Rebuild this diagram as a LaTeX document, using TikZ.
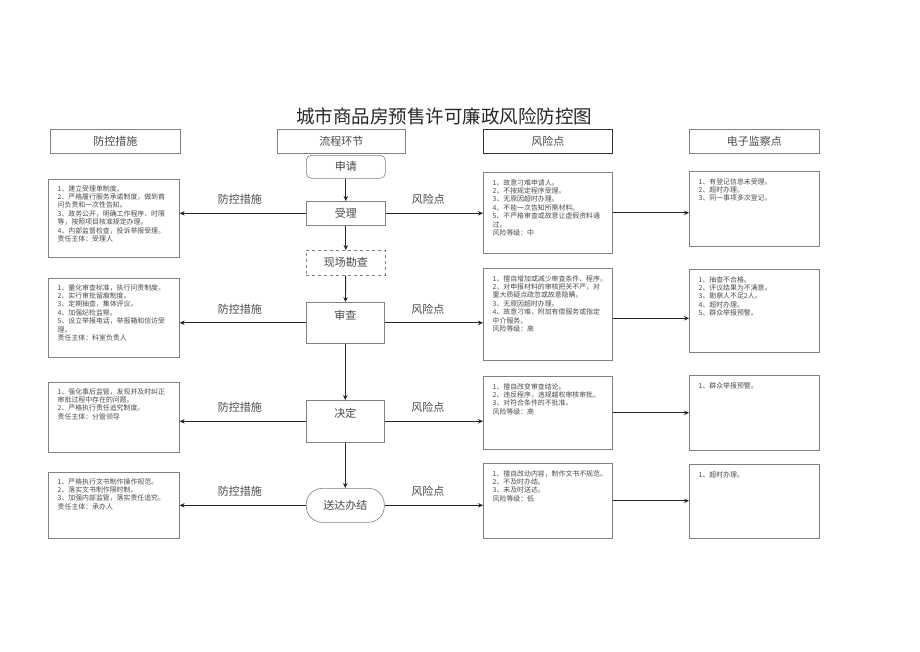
\documentclass[tikz,border=0pt]{standalone}
\usepackage{fontspec}
\setmainfont{Noto Sans CJK SC}
\usetikzlibrary{arrows.meta}
\definecolor{bordergray}{HTML}{808080}
\definecolor{txtgray}{HTML}{4A4A4A}
\tikzset{
  box/.style={draw=bordergray, line width=0.6pt, rectangle, inner sep=0pt, anchor=north west},
  headbox/.style={box, font=\fontsize{11}{13}\selectfont, text=txtgray},
  procbox/.style={box, font=\fontsize{11}{13}\selectfont, text=txtgray},
  bodytext/.style={anchor=north west, align=left, font=\fontsize{6.9}{8.45}\selectfont, text=txtgray, inner sep=0pt},
  arr/.style={draw=black!85, line width=0.9pt, -{Stealth[length=5pt,width=4.5pt]}},
  lbl/.style={font=\fontsize{11}{13}\selectfont, text=txtgray, inner sep=0pt},
}
\begin{document}
\begin{tikzpicture}[x=1pt,y=-1pt]
\useasboundingbox[fill=white] (0,0) rectangle (920,651);

% title
\node[font=\fontsize{18.5}{20}\selectfont, text=black!85] (title) at (444,116) {城市商品房预售许可廉政风险防控图};

% headers
\node[headbox, minimum width=130pt, minimum height=24pt] (h1) at (50,129) {防控措施};
\node[headbox, minimum width=128pt, minimum height=24pt] (h2) at (277,129) {流程环节};
\node[headbox, draw=black!80, line width=0.9pt, minimum width=129pt, minimum height=24pt] (h3) at (483,129) {风险点};
\node[headbox, minimum width=130pt, minimum height=24pt] (h4) at (689,129) {电子监察点};

% process nodes
\node[procbox, rounded corners=5pt, minimum width=79pt, minimum height=23pt] (shenqing) at (306,155) {申请};
\node[procbox, minimum width=79pt, minimum height=24pt] (shouli) at (306,201) {受理};
\node[procbox, dashed, minimum width=79pt, minimum height=25pt] (kancha) at (306,250) {现场勘查};
\node[procbox, minimum width=78pt, minimum height=41pt] (shencha) at (306,302) {};
\node[lbl] (shenchat) at ([yshift=-13pt]shencha.north) {审查};
\node[procbox, minimum width=78pt, minimum height=42pt] (jueding) at (306,400) {};
\node[lbl] (juedingt) at ([yshift=-13pt]jueding.north) {决定};
\node[procbox, rounded corners=16pt, minimum width=78pt, minimum height=34pt] (songda) at (306,488) {送达办结};

% left boxes
\node[box, minimum width=131pt, minimum height=78pt] (L1) at (48,179) {};
\node[box, minimum width=131pt, minimum height=79pt] (L2) at (48,278) {};
\node[box, minimum width=131pt, minimum height=70pt] (L3) at (48,382) {};
\node[box, minimum width=131pt, minimum height=66pt] (L4) at (48,472) {};
% risk boxes
\node[box, minimum width=129pt, minimum height=81pt] (R1) at (483,172) {};
\node[box, minimum width=129pt, minimum height=92pt] (R2) at (483,268) {};
\node[box, minimum width=129pt, minimum height=73pt] (R3) at (483,376) {};
\node[box, minimum width=129pt, minimum height=75pt] (R4) at (483,463) {};
% e-monitor boxes
\node[box, minimum width=130pt, minimum height=75pt] (E1) at (689,171) {};
\node[box, minimum width=130pt, minimum height=83pt] (E2) at (689,269) {};
\node[box, minimum width=130pt, minimum height=75pt] (E3) at (689,375) {};
\node[box, minimum width=130pt, minimum height=74pt] (E4) at (689,464) {};

% texts
\node[bodytext] (L1t) at ([xshift=9.5pt,yshift=-6pt]L1.north west) {1、建立受理单制度。\\2、严格履行服务承诺制度，做到首\\问负责和一次性告知。\\3、政务公开，明确工作程序、时限\\等，按照项目核准规定办理。\\4、内部监督检查，投诉举报受理。\\责任主体：受理人};
\node[bodytext] (L2t) at ([xshift=9.5pt,yshift=-6pt]L2.north west) {1、量化审查标准，执行问责制度。\\2、实行审批留痕制度。\\3、定期抽查，集体评议。\\4、加强纪检监察。\\5、设立举报电话，举报箱和信访受\\理。\\责任主体：科室负责人};
\node[bodytext] (L3t) at ([xshift=9.5pt,yshift=-6pt]L3.north west) {1、强化事后监管，发现并及时纠正\\审批过程中存在的问题。\\2、严格执行责任追究制度。\\责任主体：分管领导};
\node[bodytext] (L4t) at ([xshift=9.5pt,yshift=-6pt]L4.north west) {1、严格执行文书制作操作规范。\\2、落实文书制作限时制。\\3、加强内部监管，落实责任追究。\\责任主体：承办人};

\node[bodytext] (R1t) at ([xshift=9.5pt,yshift=-7pt]R1.north west) {1、故意刁难申请人。\\2、不按规定程序受理。\\3、无原因超时办理。\\4、不能一次告知所需材料。\\5、不严格审查或故意让虚假资料通\\过。\\风险等级：中};
\node[bodytext] (R2t) at ([xshift=9.5pt,yshift=-7pt]R2.north west) {1、擅自增加或减少审查条件、程序。\\2、对申报材料的审核把关不严，对\\重大质疑点疏忽或故意隐瞒。\\3、无原因超时办理。\\4、故意刁难，附加有偿服务或指定\\中介服务。\\风险等级：高};
\node[bodytext] (R3t) at ([xshift=9.5pt,yshift=-7pt]R3.north west) {1、擅自改变审查结论。\\2、违反程序，违规越权审核审批。\\3、对符合条件的不批准。\\风险等级：高};
\node[bodytext] (R4t) at ([xshift=9.5pt,yshift=-7pt]R4.north west) {1、擅自改动内容，制作文书不规范。\\2、不及时办结。\\3、未及时送达。\\风险等级：低};

\node[bodytext] (E1t) at ([xshift=9.5pt,yshift=-7pt]E1.north west) {1、有登记信息未受理。\\2、超时办理。\\3、同一事项多次登记。};
\node[bodytext] (E2t) at ([xshift=9.5pt,yshift=-7pt]E2.north west) {1、抽查不合格。\\2、评议结果为不满意。\\3、勘察人不足2人。\\4、超时办理。\\5、群众举报预警。};
\node[bodytext] (E3t) at ([xshift=9.5pt,yshift=-7pt]E3.north west) {1、群众举报预警。};
\node[bodytext] (E4t) at ([xshift=9.5pt,yshift=-7pt]E4.north west) {1、超时办理。};

% vertical flow
\draw[arr] (shenqing) -- (shouli);
\draw[arr] (shouli) -- (kancha);
\draw[arr] (kancha) -- (shencha);
\draw[arr] (shencha) -- (jueding);
\draw[arr] (jueding) -- (songda);

% left arrows
\draw[arr] (shouli.west) -- (shouli.west -| L1.east) node[lbl, midway, above=8pt, xshift=-3pt] {防控措施};
\draw[arr] (shencha.west) -- (shencha.west -| L2.east) node[lbl, midway, above=8pt, xshift=-3pt] {防控措施};
\draw[arr] (jueding.west) -- (jueding.west -| L3.east) node[lbl, midway, above=8pt, xshift=-3pt] {防控措施};
\draw[arr] (songda.west) -- (songda.west -| L4.east) node[lbl, midway, above=8pt, xshift=-3pt] {防控措施};

% right arrows
\draw[arr] (shouli.east) -- (shouli.east -| R1.west) node[lbl, midway, above=8pt, xshift=-6pt] {风险点};
\draw[arr] (shencha.east) -- (shencha.east -| R2.west) node[lbl, midway, above=8pt, xshift=-6pt] {风险点};
\draw[arr] (jueding.east) -- (jueding.east -| R3.west) node[lbl, midway, above=8pt, xshift=-6pt] {风险点};
\draw[arr] (songda.east) -- (songda.east -| R4.west) node[lbl, midway, above=8pt, xshift=-6pt] {风险点};

% to e-monitor
\draw[arr] (R1.east) -- (R1.east -| E1.west);
\draw[arr] ([yshift=-4pt]R2.east) -- ([yshift=-4pt]R2.east -| E2.west);
\draw[arr] (R3.east) -- (R3.east -| E3.west);
\draw[arr] (R4.east) -- (R4.east -| E4.west);
\end{tikzpicture}
\end{document}
